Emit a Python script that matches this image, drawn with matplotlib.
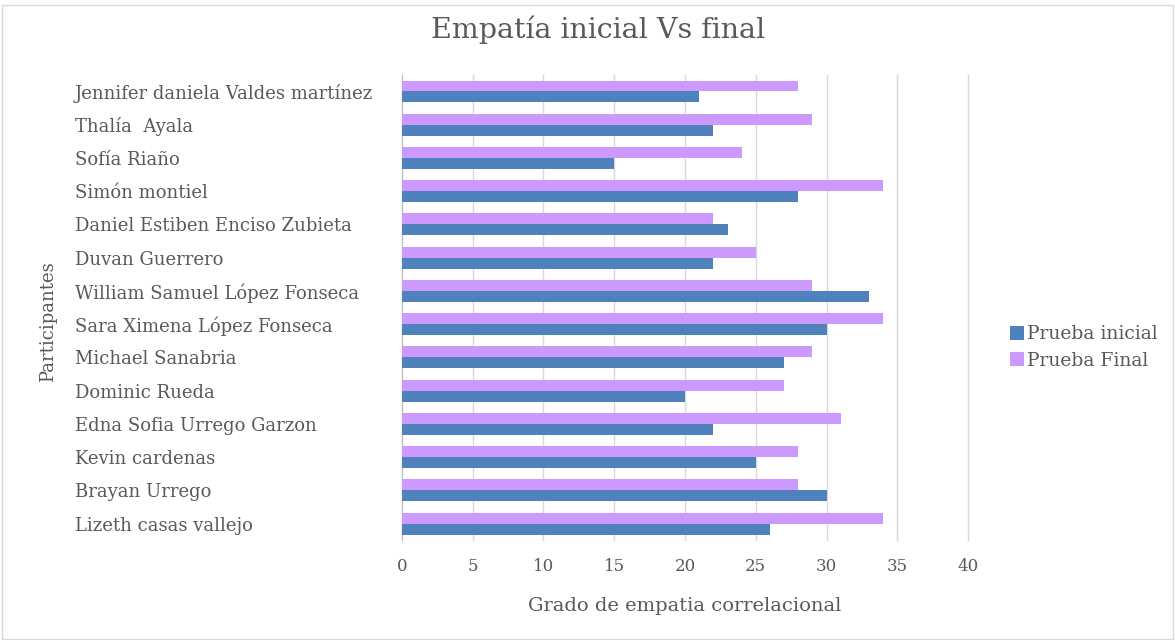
import matplotlib.pyplot as plt
import numpy as np

# participantes, de arriba hacia abajo
participantes = [
    "Jennifer daniela Valdes martínez",
    "Thalía  Ayala",
    "Sofía Riaño",
    "Simón montiel",
    "Daniel Estiben Enciso Zubieta",
    "Duvan Guerrero",
    "William Samuel López Fonseca",
    "Sara Ximena López Fonseca",
    "Michael Sanabria",
    "Dominic Rueda",
    "Edna Sofia Urrego Garzon",
    "Kevin cardenas",
    "Brayan Urrego",
    "Lizeth casas vallejo",
]
prueba_inicial = [21, 22, 15, 28, 23, 22, 33, 30, 27, 20, 22, 25, 30, 26]
prueba_final = [28, 29, 24, 34, 22, 25, 29, 34, 29, 27, 31, 28, 28, 34]
x_ticks = [0, 5, 10, 15, 20, 25, 30, 35, 40]

azul = "#4F81BD"
morado = "#CC99FF"
gris = "#595959"
fuente = "DejaVu Serif"

fig = plt.figure(figsize=(11.75, 6.4), dpi=100)
ax = fig.add_axes([0.342, 0.156, 0.482, 0.727])

n = len(participantes)
pos = np.arange(n)[::-1]  # primero arriba
h = 0.33
ax.barh(pos - h / 2, prueba_inicial, height=h, color=azul, label="Prueba inicial", zorder=3)
ax.barh(pos + h / 2, prueba_final, height=h, color=morado, label="Prueba Final", zorder=3)

ax.set_xlim(0, 40)
ax.set_ylim(-0.5, n - 0.5)
ax.set_xticks(x_ticks)
ax.set_xticklabels([str(t) for t in x_ticks], family=fuente, fontsize=12, color=gris)
ax.set_yticks(pos)
ax.set_yticklabels(participantes, family=fuente, fontsize=13, color=gris, ha="left")
# etiquetas alineadas a la izquierda en x=75 px (pad en puntos)
ax.tick_params(axis="y", length=0, pad=(402 - 75) * 0.72)
ax.tick_params(axis="x", length=0, pad=13)
ax.grid(axis="x", color="#D9D9D9", linewidth=1, zorder=0)
for gl in ax.get_xgridlines():
    gl.set_clip_on(False)
for s in ["top", "right", "bottom"]:
    ax.spines[s].set_visible(False)
ax.spines["left"].set_color("#BFBFBF")

ax.set_xlabel("Grado de empatia correlacional", family=fuente, fontsize=14, color=gris, labelpad=16)
fig.text(0.041, 0.498, "Participantes", rotation=90, family=fuente, fontsize=13,
         color=gris, ha="center", va="center")
fig.text(0.509, 0.953, "Empatía inicial Vs final", family=fuente, fontsize=20.5,
         color=gris, ha="center", va="center")

leg = ax.legend(loc="center left", bbox_to_anchor=(1.06, 0.414), frameon=False,
                prop={"family": fuente, "size": 13.5}, handlelength=0.75, handleheight=0.75,
                handletextpad=0.2, labelspacing=0.45, borderaxespad=0)
for t in leg.get_texts():
    t.set_color(gris)

# marco del gráfico
fig.patches.append(plt.Rectangle((0.002, 0.002), 0.996, 0.99, transform=fig.transFigure,
                                 fill=False, edgecolor="#D9D9D9", linewidth=1))

fig.savefig("out.png", dpi=100)
